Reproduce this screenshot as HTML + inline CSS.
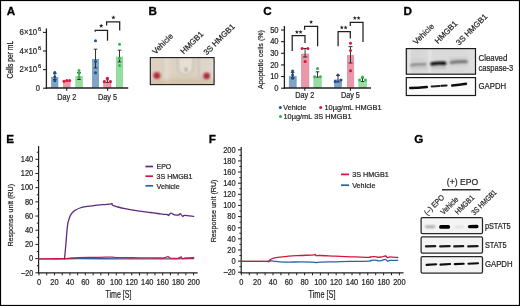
<!DOCTYPE html>
<html><head><meta charset="utf-8"><style>
html,body{margin:0;padding:0;background:#fff;}
body{width:520px;height:306px;overflow:hidden;}
svg{display:block;font-family:"Liberation Sans", sans-serif;will-change:transform;}
</style></head><body>
<svg width="520" height="306" viewBox="0 0 520 306">
<rect x="0" y="0" width="520" height="306" fill="#fff"/>
<text x="6.70" y="14.50" font-size="11.7" text-anchor="start" font-weight="bold" fill="#000" stroke="#000" stroke-width="0.3">A</text>
<line x1="46.40" y1="28.40" x2="46.40" y2="88.90" stroke="#231f20" stroke-width="1.3"/>
<line x1="43.00" y1="88.20" x2="46.40" y2="88.20" stroke="#231f20" stroke-width="1.1"/>
<line x1="43.00" y1="69.60" x2="46.40" y2="69.60" stroke="#231f20" stroke-width="1.1"/>
<line x1="43.00" y1="51.00" x2="46.40" y2="51.00" stroke="#231f20" stroke-width="1.1"/>
<line x1="43.00" y1="32.40" x2="46.40" y2="32.40" stroke="#231f20" stroke-width="1.1"/>
<text x="19.6" y="72.20" font-size="8.4" fill="#231f20" stroke="#231f20" stroke-width="0.22" textLength="17.6" lengthAdjust="spacingAndGlyphs">2×10</text>
<text x="37.9" y="68.10" font-size="5.7" fill="#231f20" stroke="#231f20" stroke-width="0.22">6</text>
<text x="19.6" y="53.60" font-size="8.4" fill="#231f20" stroke="#231f20" stroke-width="0.22" textLength="17.6" lengthAdjust="spacingAndGlyphs">4×10</text>
<text x="37.9" y="49.50" font-size="5.7" fill="#231f20" stroke="#231f20" stroke-width="0.22">6</text>
<text x="19.6" y="35.00" font-size="8.4" fill="#231f20" stroke="#231f20" stroke-width="0.22" textLength="17.6" lengthAdjust="spacingAndGlyphs">6×10</text>
<text x="37.9" y="30.90" font-size="5.7" fill="#231f20" stroke="#231f20" stroke-width="0.22">6</text>
<text x="40.00" y="91.00" font-size="8.36" text-anchor="end" font-weight="normal" fill="#231f20" textLength="4.23" lengthAdjust="spacingAndGlyphs" stroke="#231f20" stroke-width="0.22">0</text>
<text transform="translate(12.80,59.70) rotate(-90)" x="0" y="0" font-size="8.14" text-anchor="middle" font-weight="normal" fill="#231f20" textLength="37.8" lengthAdjust="spacingAndGlyphs" stroke="#231f20" stroke-width="0.22">Cells per mL</text>
<rect x="51.50" y="77.30" width="6.50" height="10.30" fill="#7fa3c9" stroke="#6d93bf" stroke-width="0.6"/>
<rect x="63.30" y="81.30" width="6.80" height="6.30" fill="#ea97aa" stroke="#df8399" stroke-width="0.6"/>
<rect x="75.80" y="76.30" width="6.50" height="11.30" fill="#97dca0" stroke="#80d08e" stroke-width="0.6"/>
<rect x="92.30" y="59.30" width="6.40" height="28.30" fill="#7fa3c9" stroke="#6d93bf" stroke-width="0.6"/>
<rect x="103.70" y="82.70" width="7.30" height="4.90" fill="#ea97aa" stroke="#df8399" stroke-width="0.6"/>
<rect x="116.30" y="57.00" width="6.40" height="30.60" fill="#97dca0" stroke="#80d08e" stroke-width="0.6"/>
<line x1="45.80" y1="88.00" x2="128.20" y2="88.00" stroke="#231f20" stroke-width="1.5"/>
<line x1="66.70" y1="88.00" x2="66.70" y2="90.80" stroke="#231f20" stroke-width="1.1"/>
<line x1="107.60" y1="88.00" x2="107.60" y2="90.80" stroke="#231f20" stroke-width="1.1"/>
<text x="66.80" y="100.20" font-size="8.8" text-anchor="middle" font-weight="normal" fill="#231f20" textLength="19.2" lengthAdjust="spacingAndGlyphs" stroke="#231f20" stroke-width="0.22">Day 2</text>
<text x="107.50" y="100.20" font-size="8.8" text-anchor="middle" font-weight="normal" fill="#231f20" textLength="19.2" lengthAdjust="spacingAndGlyphs" stroke="#231f20" stroke-width="0.22">Day 5</text>
<line x1="54.80" y1="73.70" x2="54.80" y2="79.60" stroke="#231f20" stroke-width="0.9"/>
<line x1="53.00" y1="73.70" x2="56.60" y2="73.70" stroke="#231f20" stroke-width="0.9"/>
<line x1="53.00" y1="79.60" x2="56.60" y2="79.60" stroke="#231f20" stroke-width="0.9"/>
<circle cx="54.80" cy="72.40" r="1.5" fill="#1b4f8f"/>
<circle cx="54.80" cy="76.80" r="1.5" fill="#1b4f8f"/>
<circle cx="54.80" cy="80.80" r="1.5" fill="#1b4f8f"/>
<circle cx="64.00" cy="81.30" r="1.5" fill="#d9153b"/>
<circle cx="66.80" cy="80.60" r="1.5" fill="#d9153b"/>
<circle cx="69.60" cy="80.40" r="1.5" fill="#d9153b"/>
<line x1="79.00" y1="72.50" x2="79.00" y2="79.50" stroke="#231f20" stroke-width="0.9"/>
<line x1="77.20" y1="72.50" x2="80.80" y2="72.50" stroke="#231f20" stroke-width="0.9"/>
<line x1="77.20" y1="79.50" x2="80.80" y2="79.50" stroke="#231f20" stroke-width="0.9"/>
<circle cx="79.00" cy="70.50" r="1.5" fill="#2fb64b"/>
<circle cx="79.00" cy="73.20" r="1.5" fill="#2fb64b"/>
<circle cx="79.00" cy="77.20" r="1.5" fill="#2fb64b"/>
<line x1="95.50" y1="49.20" x2="95.50" y2="67.90" stroke="#231f20" stroke-width="0.9"/>
<line x1="93.70" y1="49.20" x2="97.30" y2="49.20" stroke="#231f20" stroke-width="0.9"/>
<line x1="93.70" y1="67.90" x2="97.30" y2="67.90" stroke="#231f20" stroke-width="0.9"/>
<circle cx="95.50" cy="40.70" r="1.5" fill="#1b4f8f"/>
<circle cx="95.50" cy="61.40" r="1.5" fill="#1b4f8f"/>
<circle cx="95.50" cy="72.80" r="1.5" fill="#1b4f8f"/>
<line x1="107.40" y1="79.80" x2="107.40" y2="82.40" stroke="#231f20" stroke-width="0.9"/>
<line x1="106.00" y1="79.80" x2="108.80" y2="79.80" stroke="#231f20" stroke-width="0.9"/>
<line x1="106.00" y1="82.40" x2="108.80" y2="82.40" stroke="#231f20" stroke-width="0.9"/>
<circle cx="107.40" cy="78.30" r="1.6" fill="#d9153b"/>
<circle cx="104.40" cy="81.60" r="1.6" fill="#d9153b"/>
<circle cx="110.40" cy="81.60" r="1.6" fill="#d9153b"/>
<line x1="119.50" y1="50.20" x2="119.50" y2="61.90" stroke="#231f20" stroke-width="0.9"/>
<line x1="117.70" y1="50.20" x2="121.30" y2="50.20" stroke="#231f20" stroke-width="0.9"/>
<line x1="117.70" y1="61.90" x2="121.30" y2="61.90" stroke="#231f20" stroke-width="0.9"/>
<circle cx="119.50" cy="44.30" r="1.5" fill="#2fb64b"/>
<circle cx="119.50" cy="58.40" r="1.5" fill="#2fb64b"/>
<circle cx="119.50" cy="65.50" r="1.5" fill="#2fb64b"/>
<polyline points="95.20,31.80 95.20,30.40 107.50,30.40 107.50,40.80" fill="none" stroke="#231f20" stroke-width="1.25"/>
<polyline points="106.60,25.50 106.60,21.80 119.70,21.80 119.70,30.40" fill="none" stroke="#231f20" stroke-width="1.25"/>
<polygon points="101.20,23.50 101.77,25.02 103.39,25.09 102.12,26.10 102.55,27.66 101.20,26.77 99.85,27.66 100.28,26.10 99.01,25.09 100.63,25.02" fill="#231f20"/>
<polygon points="113.40,15.20 113.97,16.72 115.59,16.79 114.32,17.80 114.75,19.36 113.40,18.47 112.05,19.36 112.48,17.80 111.21,16.79 112.83,16.72" fill="#231f20"/>
<text x="148.60" y="15.00" font-size="11.7" text-anchor="start" font-weight="bold" fill="#000" stroke="#000" stroke-width="0.3">B</text>
<text transform="translate(155.50,54.80) rotate(-45)" x="0" y="0" font-size="8.0" text-anchor="start" font-weight="normal" fill="#231f20" textLength="25.8" lengthAdjust="spacingAndGlyphs" stroke="#231f20" stroke-width="0.22">Vehicle</text>
<text transform="translate(183.80,54.60) rotate(-45)" x="0" y="0" font-size="8.0" text-anchor="start" font-weight="normal" fill="#231f20" textLength="28.45" lengthAdjust="spacingAndGlyphs" stroke="#231f20" stroke-width="0.22">HMGB1</text>
<text transform="translate(206.80,55.60) rotate(-45)" x="0" y="0" font-size="8.0" text-anchor="start" font-weight="normal" fill="#231f20" textLength="40.46" lengthAdjust="spacingAndGlyphs" stroke="#231f20" stroke-width="0.22">3S HMGB1</text>
<defs>
<linearGradient id="phbg" x1="0" y1="0" x2="0" y2="1">
<stop offset="0" stop-color="#dcd3c6"/><stop offset="0.6" stop-color="#ddd2c1"/><stop offset="1" stop-color="#d3c3a9"/></linearGradient>
<filter id="blur1" filterUnits="userSpaceOnUse" x="0" y="0" width="520" height="306"><feGaussianBlur stdDeviation="1.2"/></filter>
<filter id="blur05" filterUnits="userSpaceOnUse" x="0" y="0" width="520" height="306"><feGaussianBlur stdDeviation="0.6"/></filter>
<filter id="blur08" filterUnits="userSpaceOnUse" x="0" y="0" width="520" height="306"><feGaussianBlur stdDeviation="0.9"/></filter>
<filter id="blur03" filterUnits="userSpaceOnUse" x="0" y="0" width="520" height="306"><feGaussianBlur stdDeviation="0.45"/></filter>
</defs>
<rect x="150.30" y="57.60" width="63.80" height="27.00" fill="url(#phbg)"/>
<clipPath id="phclip"><rect x="150.3" y="57.6" width="63.8" height="27.0"/></clipPath>
<g clip-path="url(#phclip)"><g filter="url(#blur1)">
<path d="M151,57 L162,57 L162,72 Q161,80 155,82 L151,82 Z" fill="#e0d2c2" opacity="0.9"/>
<rect x="163.5" y="57" width="6" height="28" fill="#e4dbd0" opacity="0.8"/>
<path d="M177.5,57 L193.8,57 L193.8,67 Q193,75.5 185.6,75.5 Q178.2,75.5 177.5,67 Z" fill="#e6dfd6"/>
<path d="M199,57 L214,57 L214,84 L206,84 Q200,81 199,72 Z" fill="#e0d7cb" opacity="0.9"/>
<rect x="150" y="79.5" width="65" height="6" fill="#d2c2a8" opacity="0.7"/>
</g>
<g filter="url(#blur08)" fill="none">
<path d="M177.8,57 L177.8,66.5 Q178.5,75 185.6,75 Q192.7,75 193.4,66.5 L193.4,57" stroke="#c3baaf" stroke-width="1.5"/>
<path d="M198.8,57 L198.8,71 Q199.5,79.5 205.5,81.5" stroke="#c6bdb1" stroke-width="1.4"/>
<path d="M163,57 L163,70 Q162.5,79 157.5,81.5" stroke="#d3c6b6" stroke-width="1.0"/>
<path d="M212.6,62 L212.6,78" stroke="#eeeaf2" stroke-width="0.9"/>
</g>
<g filter="url(#blur08)">
<ellipse cx="156.9" cy="75.6" rx="3.6" ry="3.5" fill="#b63a48"/>
<ellipse cx="206.6" cy="75.9" rx="3.5" ry="3.4" fill="#b63846"/>
<ellipse cx="156.7" cy="76.2" rx="2.2" ry="2.0" fill="#a82c3c"/>
<ellipse cx="206.8" cy="76.5" rx="2.2" ry="2.0" fill="#a62a3a"/>
<ellipse cx="186.0" cy="69.6" rx="1.4" ry="2.0" fill="#b39a84"/>
</g></g>
<rect x="150.3" y="57.6" width="63.8" height="27.0" fill="none" stroke="#1a1a1a" stroke-width="1.1"/>
<text x="263.30" y="14.80" font-size="11.7" text-anchor="start" font-weight="bold" fill="#000" stroke="#000" stroke-width="0.3">C</text>
<line x1="284.40" y1="26.00" x2="284.40" y2="88.90" stroke="#231f20" stroke-width="1.3"/>
<line x1="281.00" y1="88.20" x2="284.40" y2="88.20" stroke="#231f20" stroke-width="1.1"/>
<text x="278.60" y="90.80" font-size="8.36" text-anchor="end" font-weight="normal" fill="#231f20" textLength="4.23" lengthAdjust="spacingAndGlyphs" stroke="#231f20" stroke-width="0.22">0</text>
<line x1="281.00" y1="76.56" x2="284.40" y2="76.56" stroke="#231f20" stroke-width="1.1"/>
<text x="278.60" y="79.16" font-size="8.36" text-anchor="end" font-weight="normal" fill="#231f20" textLength="8.45" lengthAdjust="spacingAndGlyphs" stroke="#231f20" stroke-width="0.22">10</text>
<line x1="281.00" y1="64.92" x2="284.40" y2="64.92" stroke="#231f20" stroke-width="1.1"/>
<text x="278.60" y="67.52" font-size="8.36" text-anchor="end" font-weight="normal" fill="#231f20" textLength="8.45" lengthAdjust="spacingAndGlyphs" stroke="#231f20" stroke-width="0.22">20</text>
<line x1="281.00" y1="53.28" x2="284.40" y2="53.28" stroke="#231f20" stroke-width="1.1"/>
<text x="278.60" y="55.88" font-size="8.36" text-anchor="end" font-weight="normal" fill="#231f20" textLength="8.45" lengthAdjust="spacingAndGlyphs" stroke="#231f20" stroke-width="0.22">30</text>
<line x1="281.00" y1="41.64" x2="284.40" y2="41.64" stroke="#231f20" stroke-width="1.1"/>
<text x="278.60" y="44.24" font-size="8.36" text-anchor="end" font-weight="normal" fill="#231f20" textLength="8.45" lengthAdjust="spacingAndGlyphs" stroke="#231f20" stroke-width="0.22">40</text>
<line x1="281.00" y1="30.00" x2="284.40" y2="30.00" stroke="#231f20" stroke-width="1.1"/>
<text x="278.60" y="32.60" font-size="8.36" text-anchor="end" font-weight="normal" fill="#231f20" textLength="8.45" lengthAdjust="spacingAndGlyphs" stroke="#231f20" stroke-width="0.22">50</text>
<text transform="translate(263.00,59.50) rotate(-90)" x="0" y="0" font-size="8.03" text-anchor="middle" font-weight="normal" fill="#231f20" textLength="59" lengthAdjust="spacingAndGlyphs" stroke="#231f20" stroke-width="0.22">Apoptotic cells (%)</text>
<rect x="289.20" y="76.50" width="7.00" height="11.10" fill="#7fa3c9" stroke="#6d93bf" stroke-width="0.6"/>
<rect x="301.40" y="54.00" width="7.50" height="33.60" fill="#ea97aa" stroke="#df8399" stroke-width="0.6"/>
<rect x="313.90" y="78.30" width="7.30" height="9.30" fill="#97dca0" stroke="#80d08e" stroke-width="0.6"/>
<rect x="334.30" y="79.90" width="7.20" height="7.70" fill="#7fa3c9" stroke="#6d93bf" stroke-width="0.6"/>
<rect x="347.30" y="55.40" width="6.50" height="32.20" fill="#ea97aa" stroke="#df8399" stroke-width="0.6"/>
<rect x="358.80" y="81.60" width="7.60" height="6.00" fill="#97dca0" stroke="#80d08e" stroke-width="0.6"/>
<line x1="283.80" y1="88.00" x2="371.00" y2="88.00" stroke="#231f20" stroke-width="1.5"/>
<line x1="304.80" y1="88.00" x2="304.80" y2="90.80" stroke="#231f20" stroke-width="1.1"/>
<line x1="350.40" y1="88.00" x2="350.40" y2="90.80" stroke="#231f20" stroke-width="1.1"/>
<text x="304.70" y="97.80" font-size="8.36" text-anchor="middle" font-weight="normal" fill="#231f20" textLength="19.0" lengthAdjust="spacingAndGlyphs" stroke="#231f20" stroke-width="0.22">Day 2</text>
<text x="350.40" y="97.80" font-size="8.36" text-anchor="middle" font-weight="normal" fill="#231f20" textLength="19.0" lengthAdjust="spacingAndGlyphs" stroke="#231f20" stroke-width="0.22">Day 5</text>
<line x1="292.60" y1="72.60" x2="292.60" y2="77.70" stroke="#231f20" stroke-width="0.9"/>
<line x1="290.80" y1="72.60" x2="294.40" y2="72.60" stroke="#231f20" stroke-width="0.9"/>
<line x1="290.80" y1="77.70" x2="294.40" y2="77.70" stroke="#231f20" stroke-width="0.9"/>
<circle cx="292.60" cy="70.90" r="1.5" fill="#1b4f8f"/>
<circle cx="292.60" cy="75.00" r="1.5" fill="#1b4f8f"/>
<circle cx="292.60" cy="78.20" r="1.5" fill="#1b4f8f"/>
<line x1="305.10" y1="48.50" x2="305.10" y2="57.00" stroke="#231f20" stroke-width="0.9"/>
<line x1="302.90" y1="48.50" x2="307.30" y2="48.50" stroke="#231f20" stroke-width="0.9"/>
<line x1="302.90" y1="57.00" x2="307.30" y2="57.00" stroke="#231f20" stroke-width="0.9"/>
<circle cx="302.20" cy="48.50" r="1.5" fill="#d9153b"/>
<circle cx="307.90" cy="48.50" r="1.5" fill="#d9153b"/>
<circle cx="305.10" cy="61.50" r="1.5" fill="#d9153b"/>
<line x1="317.50" y1="71.80" x2="317.50" y2="77.20" stroke="#231f20" stroke-width="0.9"/>
<line x1="315.70" y1="71.80" x2="319.30" y2="71.80" stroke="#231f20" stroke-width="0.9"/>
<line x1="315.70" y1="77.20" x2="319.30" y2="77.20" stroke="#231f20" stroke-width="0.9"/>
<circle cx="317.50" cy="68.40" r="1.5" fill="#2fb64b"/>
<circle cx="314.60" cy="76.80" r="1.5" fill="#2fb64b"/>
<circle cx="320.40" cy="76.80" r="1.5" fill="#2fb64b"/>
<line x1="338.00" y1="75.50" x2="338.00" y2="82.00" stroke="#231f20" stroke-width="0.9"/>
<line x1="336.20" y1="75.50" x2="339.80" y2="75.50" stroke="#231f20" stroke-width="0.9"/>
<line x1="336.20" y1="82.00" x2="339.80" y2="82.00" stroke="#231f20" stroke-width="0.9"/>
<circle cx="338.00" cy="74.90" r="1.5" fill="#1b4f8f"/>
<circle cx="335.20" cy="81.50" r="1.5" fill="#1b4f8f"/>
<circle cx="341.00" cy="80.10" r="1.5" fill="#1b4f8f"/>
<line x1="350.50" y1="46.60" x2="350.50" y2="63.00" stroke="#231f20" stroke-width="0.9"/>
<line x1="348.50" y1="46.60" x2="352.50" y2="46.60" stroke="#231f20" stroke-width="0.9"/>
<line x1="348.50" y1="63.00" x2="352.50" y2="63.00" stroke="#231f20" stroke-width="0.9"/>
<circle cx="350.50" cy="43.20" r="1.5" fill="#d9153b"/>
<circle cx="350.50" cy="50.40" r="1.5" fill="#d9153b"/>
<circle cx="350.50" cy="70.70" r="1.5" fill="#d9153b"/>
<line x1="362.50" y1="78.00" x2="362.50" y2="81.50" stroke="#231f20" stroke-width="0.9"/>
<line x1="360.90" y1="78.00" x2="364.10" y2="78.00" stroke="#231f20" stroke-width="0.9"/>
<line x1="360.90" y1="81.50" x2="364.10" y2="81.50" stroke="#231f20" stroke-width="0.9"/>
<circle cx="362.50" cy="76.90" r="1.5" fill="#2fb64b"/>
<circle cx="359.60" cy="80.10" r="1.5" fill="#2fb64b"/>
<circle cx="365.50" cy="80.10" r="1.5" fill="#2fb64b"/>
<polyline points="292.20,51.10 292.20,35.70 305.00,35.70 305.00,43.00" fill="none" stroke="#231f20" stroke-width="1.25"/>
<polyline points="304.60,29.80 304.60,26.30 317.60,26.30 317.60,46.30" fill="none" stroke="#231f20" stroke-width="1.25"/>
<polygon points="296.90,29.90 297.42,31.29 298.90,31.35 297.74,32.27 298.13,33.70 296.90,32.88 295.67,33.70 296.06,32.27 294.90,31.35 296.38,31.29" fill="#231f20"/>
<polygon points="300.60,29.90 301.12,31.29 302.60,31.35 301.44,32.27 301.83,33.70 300.60,32.88 299.37,33.70 299.76,32.27 298.60,31.35 300.08,31.29" fill="#231f20"/>
<polygon points="311.10,19.90 311.62,21.29 313.10,21.35 311.94,22.27 312.33,23.70 311.10,22.88 309.87,23.70 310.26,22.27 309.10,21.35 310.58,21.29" fill="#231f20"/>
<polyline points="338.10,46.30 338.10,31.50 350.30,31.50 350.30,38.50" fill="none" stroke="#231f20" stroke-width="1.25"/>
<polyline points="350.30,25.90 350.30,22.30 363.00,22.30 363.00,42.10" fill="none" stroke="#231f20" stroke-width="1.25"/>
<polygon points="341.80,25.40 342.32,26.79 343.80,26.85 342.64,27.77 343.03,29.20 341.80,28.38 340.57,29.20 340.96,27.77 339.80,26.85 341.28,26.79" fill="#231f20"/>
<polygon points="345.60,25.40 346.12,26.79 347.60,26.85 346.44,27.77 346.83,29.20 345.60,28.38 344.37,29.20 344.76,27.77 343.60,26.85 345.08,26.79" fill="#231f20"/>
<polygon points="354.80,15.90 355.32,17.29 356.80,17.35 355.64,18.27 356.03,19.70 354.80,18.88 353.57,19.70 353.96,18.27 352.80,17.35 354.28,17.29" fill="#231f20"/>
<polygon points="358.60,15.90 359.12,17.29 360.60,17.35 359.44,18.27 359.83,19.70 358.60,18.88 357.37,19.70 357.76,18.27 356.60,17.35 358.08,17.29" fill="#231f20"/>
<circle cx="280.30" cy="107.40" r="1.5" fill="#1b4f8f"/>
<text x="283.30" y="109.90" font-size="7.92" text-anchor="start" font-weight="normal" fill="#231f20" textLength="23.1" lengthAdjust="spacingAndGlyphs" stroke="#231f20" stroke-width="0.22">Vehicle</text>
<circle cx="320.70" cy="107.40" r="1.5" fill="#d9153b"/>
<text x="324.50" y="109.90" font-size="8.03" text-anchor="start" font-weight="normal" fill="#231f20" textLength="57.0" lengthAdjust="spacingAndGlyphs" stroke="#231f20" stroke-width="0.22">10µg/mL HMGB1</text>
<circle cx="280.50" cy="116.40" r="1.5" fill="#2fb64b"/>
<text x="283.50" y="119.00" font-size="8.03" text-anchor="start" font-weight="normal" fill="#231f20" textLength="68.0" lengthAdjust="spacingAndGlyphs" stroke="#231f20" stroke-width="0.22">10µg/mL 3S HMGB1</text>
<text x="403.50" y="14.80" font-size="11.7" text-anchor="start" font-weight="bold" fill="#000" stroke="#000" stroke-width="0.3">D</text>
<text transform="translate(416.30,45.00) rotate(-45)" x="0" y="0" font-size="8.0" text-anchor="start" font-weight="normal" fill="#231f20" textLength="25.8" lengthAdjust="spacingAndGlyphs" stroke="#231f20" stroke-width="0.22">Vehicle</text>
<text transform="translate(437.90,44.20) rotate(-45)" x="0" y="0" font-size="8.0" text-anchor="start" font-weight="normal" fill="#231f20" textLength="28.45" lengthAdjust="spacingAndGlyphs" stroke="#231f20" stroke-width="0.22">HMGB1</text>
<text transform="translate(459.30,45.70) rotate(-45)" x="0" y="0" font-size="8.0" text-anchor="start" font-weight="normal" fill="#231f20" textLength="40.46" lengthAdjust="spacingAndGlyphs" stroke="#231f20" stroke-width="0.22">3S HMGB1</text>
<defs><linearGradient id="dbg" x1="0" y1="0" x2="1" y2="0">
<stop offset="0" stop-color="#cdcdcd"/><stop offset="0.04" stop-color="#e8e8e8"/><stop offset="0.08" stop-color="#d6d6d6"/><stop offset="0.3" stop-color="#d9d9d9"/><stop offset="0.34" stop-color="#e4e4e4"/><stop offset="0.38" stop-color="#dadada"/><stop offset="0.85" stop-color="#dadada"/><stop offset="1" stop-color="#e0e0e0"/></linearGradient>
<filter id="bandblur" filterUnits="userSpaceOnUse" x="0" y="0" width="520" height="306"><feGaussianBlur stdDeviation="0.55"/></filter>
<filter id="bandblur2" filterUnits="userSpaceOnUse" x="0" y="0" width="520" height="306"><feGaussianBlur stdDeviation="0.8"/></filter>
<filter id="hazeblur" filterUnits="userSpaceOnUse" x="0" y="0" width="520" height="306"><feGaussianBlur stdDeviation="1.2"/></filter>
</defs>
<rect x="406.30" y="48.60" width="69.20" height="25.60" fill="url(#dbg)"/>
<g filter="url(#hazeblur)">
<rect x="410" y="66" width="17" height="3" fill="#c8c8c8"/>
<rect x="431" y="65.2" width="15" height="3.5" fill="#c2c2c2"/>
<rect x="450" y="57.5" width="17" height="2.5" fill="#cacaca"/>
<rect x="450" y="63.5" width="17" height="2.5" fill="#cdcdcd"/>
</g>
<g filter="url(#bandblur2)" fill="none" stroke-linecap="round">
<path d="M411.3,60.2 Q418,59.6 425.3,59.9" stroke="#cbcbcb" stroke-width="1.6"/>
<path d="M411.4,65.0 Q418,63.9 425.3,64.3" stroke="#858585" stroke-width="2.6"/>
<path d="M431.8,63.8 Q438,62.7 444.7,63.3" stroke="#000" stroke-width="3.4"/>
<path d="M450.8,62.5 Q458,61.3 466.6,61.7" stroke="#666" stroke-width="2.6"/>
</g>
<rect x="406.3" y="48.6" width="69.2" height="25.6" fill="none" stroke="#1a1a1a" stroke-width="1.2"/>
<rect x="406.30" y="77.60" width="69.20" height="17.90" fill="#fbfbfb"/>
<g filter="url(#blur03)" fill="none" stroke-linecap="round">
<path d="M410.2,88.0 Q418,87.8 426.8,87.0" stroke="#111" stroke-width="2.5"/>
<path d="M431.6,86.5 Q436,86.0 439.6,85.9" stroke="#222" stroke-width="2.0"/>
<path d="M441.4,85.8 Q444,85.6 446.6,85.4" stroke="#161616" stroke-width="2.0"/>
<path d="M452.2,85.4 Q459,85.0 466.0,83.7" stroke="#111" stroke-width="2.5"/>
</g>
<rect x="406.3" y="77.6" width="69.2" height="17.9" fill="none" stroke="#1a1a1a" stroke-width="1.2"/>
<text x="478.50" y="61.30" font-size="8.58" text-anchor="start" font-weight="normal" fill="#231f20" textLength="28.8" lengthAdjust="spacingAndGlyphs" stroke="#231f20" stroke-width="0.22">Cleaved</text>
<text x="478.50" y="71.10" font-size="8.36" text-anchor="start" font-weight="normal" fill="#231f20" textLength="34.8" lengthAdjust="spacingAndGlyphs" stroke="#231f20" stroke-width="0.22">caspase-3</text>
<text x="478.50" y="89.10" font-size="8.58" text-anchor="start" font-weight="normal" fill="#231f20" textLength="27.7" lengthAdjust="spacingAndGlyphs" stroke="#231f20" stroke-width="0.22">GAPDH</text>
<text x="6.30" y="142.60" font-size="11.7" text-anchor="start" font-weight="bold" fill="#000" stroke="#000" stroke-width="0.3">E</text>
<line x1="38.60" y1="145.90" x2="38.60" y2="273.50" stroke="#231f20" stroke-width="1.2"/>
<line x1="35.40" y1="272.79" x2="38.60" y2="272.79" stroke="#231f20" stroke-width="1.0"/>
<text x="33.20" y="275.59" font-size="8.69" text-anchor="end" font-weight="normal" fill="#231f20" textLength="11.9" lengthAdjust="spacingAndGlyphs" stroke="#231f20" stroke-width="0.22">–20</text>
<line x1="36.80" y1="265.69" x2="38.60" y2="265.69" stroke="#231f20" stroke-width="1.0"/>
<line x1="35.40" y1="258.60" x2="38.60" y2="258.60" stroke="#231f20" stroke-width="1.0"/>
<text x="33.20" y="261.40" font-size="8.69" text-anchor="end" font-weight="normal" fill="#231f20" textLength="4.15" lengthAdjust="spacingAndGlyphs" stroke="#231f20" stroke-width="0.22">0</text>
<line x1="36.80" y1="251.51" x2="38.60" y2="251.51" stroke="#231f20" stroke-width="1.0"/>
<line x1="35.40" y1="244.41" x2="38.60" y2="244.41" stroke="#231f20" stroke-width="1.0"/>
<text x="33.20" y="247.21" font-size="8.69" text-anchor="end" font-weight="normal" fill="#231f20" textLength="8.3" lengthAdjust="spacingAndGlyphs" stroke="#231f20" stroke-width="0.22">20</text>
<line x1="36.80" y1="237.32" x2="38.60" y2="237.32" stroke="#231f20" stroke-width="1.0"/>
<line x1="35.40" y1="230.23" x2="38.60" y2="230.23" stroke="#231f20" stroke-width="1.0"/>
<text x="33.20" y="233.03" font-size="8.69" text-anchor="end" font-weight="normal" fill="#231f20" textLength="8.3" lengthAdjust="spacingAndGlyphs" stroke="#231f20" stroke-width="0.22">40</text>
<line x1="36.80" y1="223.14" x2="38.60" y2="223.14" stroke="#231f20" stroke-width="1.0"/>
<line x1="35.40" y1="216.04" x2="38.60" y2="216.04" stroke="#231f20" stroke-width="1.0"/>
<text x="33.20" y="218.84" font-size="8.69" text-anchor="end" font-weight="normal" fill="#231f20" textLength="8.3" lengthAdjust="spacingAndGlyphs" stroke="#231f20" stroke-width="0.22">60</text>
<line x1="36.80" y1="208.95" x2="38.60" y2="208.95" stroke="#231f20" stroke-width="1.0"/>
<line x1="35.40" y1="201.86" x2="38.60" y2="201.86" stroke="#231f20" stroke-width="1.0"/>
<text x="33.20" y="204.66" font-size="8.69" text-anchor="end" font-weight="normal" fill="#231f20" textLength="8.3" lengthAdjust="spacingAndGlyphs" stroke="#231f20" stroke-width="0.22">80</text>
<line x1="36.80" y1="194.76" x2="38.60" y2="194.76" stroke="#231f20" stroke-width="1.0"/>
<line x1="35.40" y1="187.67" x2="38.60" y2="187.67" stroke="#231f20" stroke-width="1.0"/>
<text x="33.20" y="190.47" font-size="8.69" text-anchor="end" font-weight="normal" fill="#231f20" textLength="12.450000000000001" lengthAdjust="spacingAndGlyphs" stroke="#231f20" stroke-width="0.22">100</text>
<line x1="36.80" y1="180.58" x2="38.60" y2="180.58" stroke="#231f20" stroke-width="1.0"/>
<line x1="35.40" y1="173.48" x2="38.60" y2="173.48" stroke="#231f20" stroke-width="1.0"/>
<text x="33.20" y="176.28" font-size="8.69" text-anchor="end" font-weight="normal" fill="#231f20" textLength="12.450000000000001" lengthAdjust="spacingAndGlyphs" stroke="#231f20" stroke-width="0.22">120</text>
<line x1="36.80" y1="166.39" x2="38.60" y2="166.39" stroke="#231f20" stroke-width="1.0"/>
<line x1="35.40" y1="159.30" x2="38.60" y2="159.30" stroke="#231f20" stroke-width="1.0"/>
<text x="33.20" y="162.10" font-size="8.69" text-anchor="end" font-weight="normal" fill="#231f20" textLength="12.450000000000001" lengthAdjust="spacingAndGlyphs" stroke="#231f20" stroke-width="0.22">140</text>
<line x1="36.80" y1="152.21" x2="38.60" y2="152.21" stroke="#231f20" stroke-width="1.0"/>
<line x1="38.00" y1="272.90" x2="197.70" y2="272.90" stroke="#231f20" stroke-width="1.3"/>
<line x1="39.00" y1="272.90" x2="39.00" y2="275.40" stroke="#231f20" stroke-width="1.0"/>
<text x="39.00" y="284.50" font-size="8.69" text-anchor="middle" font-weight="normal" fill="#231f20" textLength="4.15" lengthAdjust="spacingAndGlyphs" stroke="#231f20" stroke-width="0.22">0</text>
<line x1="46.73" y1="272.90" x2="46.73" y2="275.40" stroke="#231f20" stroke-width="1.0"/>
<line x1="54.46" y1="272.90" x2="54.46" y2="275.40" stroke="#231f20" stroke-width="1.0"/>
<text x="54.46" y="284.50" font-size="8.69" text-anchor="middle" font-weight="normal" fill="#231f20" textLength="8.3" lengthAdjust="spacingAndGlyphs" stroke="#231f20" stroke-width="0.22">20</text>
<line x1="62.19" y1="272.90" x2="62.19" y2="275.40" stroke="#231f20" stroke-width="1.0"/>
<line x1="69.92" y1="272.90" x2="69.92" y2="275.40" stroke="#231f20" stroke-width="1.0"/>
<text x="69.92" y="284.50" font-size="8.69" text-anchor="middle" font-weight="normal" fill="#231f20" textLength="8.3" lengthAdjust="spacingAndGlyphs" stroke="#231f20" stroke-width="0.22">40</text>
<line x1="77.65" y1="272.90" x2="77.65" y2="275.40" stroke="#231f20" stroke-width="1.0"/>
<line x1="85.38" y1="272.90" x2="85.38" y2="275.40" stroke="#231f20" stroke-width="1.0"/>
<text x="85.38" y="284.50" font-size="8.69" text-anchor="middle" font-weight="normal" fill="#231f20" textLength="8.3" lengthAdjust="spacingAndGlyphs" stroke="#231f20" stroke-width="0.22">60</text>
<line x1="93.11" y1="272.90" x2="93.11" y2="275.40" stroke="#231f20" stroke-width="1.0"/>
<line x1="100.84" y1="272.90" x2="100.84" y2="275.40" stroke="#231f20" stroke-width="1.0"/>
<text x="100.84" y="284.50" font-size="8.69" text-anchor="middle" font-weight="normal" fill="#231f20" textLength="8.3" lengthAdjust="spacingAndGlyphs" stroke="#231f20" stroke-width="0.22">80</text>
<line x1="108.57" y1="272.90" x2="108.57" y2="275.40" stroke="#231f20" stroke-width="1.0"/>
<line x1="116.30" y1="272.90" x2="116.30" y2="275.40" stroke="#231f20" stroke-width="1.0"/>
<text x="116.30" y="284.50" font-size="8.69" text-anchor="middle" font-weight="normal" fill="#231f20" textLength="12.450000000000001" lengthAdjust="spacingAndGlyphs" stroke="#231f20" stroke-width="0.22">100</text>
<line x1="124.03" y1="272.90" x2="124.03" y2="275.40" stroke="#231f20" stroke-width="1.0"/>
<line x1="131.76" y1="272.90" x2="131.76" y2="275.40" stroke="#231f20" stroke-width="1.0"/>
<text x="131.76" y="284.50" font-size="8.69" text-anchor="middle" font-weight="normal" fill="#231f20" textLength="12.450000000000001" lengthAdjust="spacingAndGlyphs" stroke="#231f20" stroke-width="0.22">120</text>
<line x1="139.49" y1="272.90" x2="139.49" y2="275.40" stroke="#231f20" stroke-width="1.0"/>
<line x1="147.22" y1="272.90" x2="147.22" y2="275.40" stroke="#231f20" stroke-width="1.0"/>
<text x="147.22" y="284.50" font-size="8.69" text-anchor="middle" font-weight="normal" fill="#231f20" textLength="12.450000000000001" lengthAdjust="spacingAndGlyphs" stroke="#231f20" stroke-width="0.22">140</text>
<line x1="154.95" y1="272.90" x2="154.95" y2="275.40" stroke="#231f20" stroke-width="1.0"/>
<line x1="162.68" y1="272.90" x2="162.68" y2="275.40" stroke="#231f20" stroke-width="1.0"/>
<text x="162.68" y="284.50" font-size="8.69" text-anchor="middle" font-weight="normal" fill="#231f20" textLength="12.450000000000001" lengthAdjust="spacingAndGlyphs" stroke="#231f20" stroke-width="0.22">160</text>
<line x1="170.41" y1="272.90" x2="170.41" y2="275.40" stroke="#231f20" stroke-width="1.0"/>
<line x1="178.14" y1="272.90" x2="178.14" y2="275.40" stroke="#231f20" stroke-width="1.0"/>
<text x="178.14" y="284.50" font-size="8.69" text-anchor="middle" font-weight="normal" fill="#231f20" textLength="12.450000000000001" lengthAdjust="spacingAndGlyphs" stroke="#231f20" stroke-width="0.22">180</text>
<line x1="185.87" y1="272.90" x2="185.87" y2="275.40" stroke="#231f20" stroke-width="1.0"/>
<line x1="193.60" y1="272.90" x2="193.60" y2="275.40" stroke="#231f20" stroke-width="1.0"/>
<text x="193.60" y="284.50" font-size="8.69" text-anchor="middle" font-weight="normal" fill="#231f20" textLength="12.450000000000001" lengthAdjust="spacingAndGlyphs" stroke="#231f20" stroke-width="0.22">200</text>
<text x="118.45" y="297.70" font-size="10.23" text-anchor="middle" font-weight="normal" fill="#231f20" textLength="26.1" lengthAdjust="spacingAndGlyphs" stroke="#231f20" stroke-width="0.22">Time [S]</text>
<text transform="translate(13.30,215.30) rotate(-90)" x="0" y="0" font-size="8.03" text-anchor="middle" font-weight="normal" fill="#231f20" textLength="62.6" lengthAdjust="spacingAndGlyphs" stroke="#231f20" stroke-width="0.22">Response unit (RU)</text>
<line x1="145.40" y1="166.50" x2="153.10" y2="166.50" stroke="#5c2b80" stroke-width="1.7"/>
<line x1="145.40" y1="176.20" x2="153.10" y2="176.20" stroke="#d4163c" stroke-width="1.7"/>
<line x1="145.40" y1="185.80" x2="153.10" y2="185.80" stroke="#2a62a6" stroke-width="1.7"/>
<text x="156.50" y="169.20" font-size="7.7" text-anchor="start" font-weight="normal" fill="#231f20" textLength="14.7" lengthAdjust="spacingAndGlyphs" stroke="#231f20" stroke-width="0.22">EPO</text>
<text x="156.50" y="178.90" font-size="7.81" text-anchor="start" font-weight="normal" fill="#231f20" textLength="36.1" lengthAdjust="spacingAndGlyphs" stroke="#231f20" stroke-width="0.22">3S HMGB1</text>
<text x="156.50" y="188.50" font-size="7.81" text-anchor="start" font-weight="normal" fill="#231f20" textLength="23.2" lengthAdjust="spacingAndGlyphs" stroke="#231f20" stroke-width="0.22">Vehicle</text>
<path d="M38.80,258.90 C43.03,258.88 57.67,258.83 64.20,258.80 C70.73,258.77 68.70,258.70 78.00,258.70 C87.30,258.70 106.33,258.78 120.00,258.80 C133.67,258.82 147.72,258.82 160.00,258.80 C172.28,258.78 188.08,258.72 193.70,258.70" fill="none" stroke="#2a62a6" stroke-width="1.3" stroke-linejoin="round" stroke-linecap="round"/>
<path d="M38.80,258.90 C40.67,258.88 45.77,258.85 50.00,258.80 C54.23,258.75 60.87,258.72 64.20,258.60 C67.53,258.48 67.70,258.27 70.00,258.10 C72.30,257.93 73.08,257.73 78.00,257.60 C82.92,257.47 93.87,257.38 99.50,257.30 C105.13,257.22 108.72,257.05 111.80,257.10 C114.88,257.15 113.30,257.48 118.00,257.60 C122.70,257.72 132.83,257.73 140.00,257.80 C147.17,257.87 157.23,257.93 161.00,258.00 C164.77,258.07 161.68,258.33 162.60,258.20 C163.52,258.07 165.60,257.47 166.50,257.20 C167.40,256.93 167.45,256.50 168.00,256.60 C168.55,256.70 169.22,257.50 169.80,257.80 C170.38,258.10 170.13,258.32 171.50,258.40 C172.87,258.48 176.40,258.55 178.00,258.30 C179.60,258.05 180.33,256.83 181.10,256.90 C181.87,256.97 181.83,258.52 182.60,258.70 C183.37,258.88 183.85,258.17 185.70,258.00 C187.55,257.83 192.37,257.75 193.70,257.70" fill="none" stroke="#d4163c" stroke-width="1.3" stroke-linejoin="round" stroke-linecap="round"/>
<path d="M64.20,258.50 C64.27,258.35 64.32,260.02 64.60,257.60 C64.88,255.18 65.52,248.35 65.90,244.00 C66.28,239.65 66.57,234.98 66.90,231.50 C67.23,228.02 67.48,225.37 67.90,223.10 C68.32,220.83 68.80,219.47 69.40,217.90 C70.00,216.33 70.63,214.92 71.50,213.70 C72.37,212.48 73.20,211.55 74.60,210.60 C76.00,209.65 77.80,208.70 79.90,208.00 C82.00,207.30 84.68,206.83 87.20,206.40 C89.72,205.97 92.35,205.70 95.00,205.40 C97.65,205.10 100.42,204.85 103.10,204.60 C105.78,204.35 109.62,204.10 111.10,203.90 C112.58,203.70 111.75,203.18 112.00,203.40 C112.25,203.62 111.58,204.60 112.60,205.20 C113.62,205.80 116.03,206.42 118.10,207.00 C120.17,207.58 122.50,208.17 125.00,208.70 C127.50,209.23 130.03,209.70 133.10,210.20 C136.17,210.70 140.58,211.32 143.40,211.70 C146.22,212.08 147.62,212.20 150.00,212.50 C152.38,212.80 155.45,213.20 157.70,213.50 C159.95,213.80 162.22,214.15 163.50,214.30 C164.78,214.45 164.72,214.35 165.40,214.40 C166.08,214.45 167.08,214.42 167.60,214.60 C168.12,214.78 167.98,215.73 168.50,215.50 C169.02,215.27 170.02,213.47 170.70,213.20 C171.38,212.93 171.97,213.63 172.60,213.90 C173.23,214.17 173.47,214.62 174.50,214.80 C175.53,214.98 177.83,215.18 178.80,215.00 C179.77,214.82 179.65,213.47 180.30,213.70 C180.95,213.93 181.98,216.12 182.70,216.40 C183.42,216.68 182.76,215.42 184.60,215.40 C186.44,215.38 192.22,216.15 193.75,216.30" fill="none" stroke="#5c2b80" stroke-width="1.3" stroke-linejoin="round" stroke-linecap="round"/>
<text x="208.70" y="142.60" font-size="11.7" text-anchor="start" font-weight="bold" fill="#000" stroke="#000" stroke-width="0.3">F</text>
<line x1="241.20" y1="146.90" x2="241.20" y2="273.40" stroke="#231f20" stroke-width="1.2"/>
<line x1="238.00" y1="272.23" x2="241.20" y2="272.23" stroke="#231f20" stroke-width="1.0"/>
<text x="235.60" y="275.03" font-size="8.69" text-anchor="end" font-weight="normal" fill="#231f20" textLength="11.9" lengthAdjust="spacingAndGlyphs" stroke="#231f20" stroke-width="0.22">–20</text>
<line x1="239.40" y1="266.67" x2="241.20" y2="266.67" stroke="#231f20" stroke-width="1.0"/>
<line x1="238.00" y1="261.10" x2="241.20" y2="261.10" stroke="#231f20" stroke-width="1.0"/>
<text x="235.60" y="263.90" font-size="8.69" text-anchor="end" font-weight="normal" fill="#231f20" textLength="4.15" lengthAdjust="spacingAndGlyphs" stroke="#231f20" stroke-width="0.22">0</text>
<line x1="239.40" y1="255.54" x2="241.20" y2="255.54" stroke="#231f20" stroke-width="1.0"/>
<line x1="238.00" y1="249.97" x2="241.20" y2="249.97" stroke="#231f20" stroke-width="1.0"/>
<text x="235.60" y="252.77" font-size="8.69" text-anchor="end" font-weight="normal" fill="#231f20" textLength="8.3" lengthAdjust="spacingAndGlyphs" stroke="#231f20" stroke-width="0.22">20</text>
<line x1="239.40" y1="244.41" x2="241.20" y2="244.41" stroke="#231f20" stroke-width="1.0"/>
<line x1="238.00" y1="238.84" x2="241.20" y2="238.84" stroke="#231f20" stroke-width="1.0"/>
<text x="235.60" y="241.64" font-size="8.69" text-anchor="end" font-weight="normal" fill="#231f20" textLength="8.3" lengthAdjust="spacingAndGlyphs" stroke="#231f20" stroke-width="0.22">40</text>
<line x1="239.40" y1="233.28" x2="241.20" y2="233.28" stroke="#231f20" stroke-width="1.0"/>
<line x1="238.00" y1="227.71" x2="241.20" y2="227.71" stroke="#231f20" stroke-width="1.0"/>
<text x="235.60" y="230.51" font-size="8.69" text-anchor="end" font-weight="normal" fill="#231f20" textLength="8.3" lengthAdjust="spacingAndGlyphs" stroke="#231f20" stroke-width="0.22">60</text>
<line x1="239.40" y1="222.15" x2="241.20" y2="222.15" stroke="#231f20" stroke-width="1.0"/>
<line x1="238.00" y1="216.58" x2="241.20" y2="216.58" stroke="#231f20" stroke-width="1.0"/>
<text x="235.60" y="219.38" font-size="8.69" text-anchor="end" font-weight="normal" fill="#231f20" textLength="8.3" lengthAdjust="spacingAndGlyphs" stroke="#231f20" stroke-width="0.22">80</text>
<line x1="239.40" y1="211.02" x2="241.20" y2="211.02" stroke="#231f20" stroke-width="1.0"/>
<line x1="238.00" y1="205.45" x2="241.20" y2="205.45" stroke="#231f20" stroke-width="1.0"/>
<text x="235.60" y="208.25" font-size="8.69" text-anchor="end" font-weight="normal" fill="#231f20" textLength="12.450000000000001" lengthAdjust="spacingAndGlyphs" stroke="#231f20" stroke-width="0.22">100</text>
<line x1="239.40" y1="199.89" x2="241.20" y2="199.89" stroke="#231f20" stroke-width="1.0"/>
<line x1="238.00" y1="194.32" x2="241.20" y2="194.32" stroke="#231f20" stroke-width="1.0"/>
<text x="235.60" y="197.12" font-size="8.69" text-anchor="end" font-weight="normal" fill="#231f20" textLength="12.450000000000001" lengthAdjust="spacingAndGlyphs" stroke="#231f20" stroke-width="0.22">120</text>
<line x1="239.40" y1="188.76" x2="241.20" y2="188.76" stroke="#231f20" stroke-width="1.0"/>
<line x1="238.00" y1="183.19" x2="241.20" y2="183.19" stroke="#231f20" stroke-width="1.0"/>
<text x="235.60" y="185.99" font-size="8.69" text-anchor="end" font-weight="normal" fill="#231f20" textLength="12.450000000000001" lengthAdjust="spacingAndGlyphs" stroke="#231f20" stroke-width="0.22">140</text>
<line x1="239.40" y1="177.63" x2="241.20" y2="177.63" stroke="#231f20" stroke-width="1.0"/>
<line x1="238.00" y1="172.06" x2="241.20" y2="172.06" stroke="#231f20" stroke-width="1.0"/>
<text x="235.60" y="174.86" font-size="8.69" text-anchor="end" font-weight="normal" fill="#231f20" textLength="12.450000000000001" lengthAdjust="spacingAndGlyphs" stroke="#231f20" stroke-width="0.22">160</text>
<line x1="239.40" y1="166.50" x2="241.20" y2="166.50" stroke="#231f20" stroke-width="1.0"/>
<line x1="238.00" y1="160.93" x2="241.20" y2="160.93" stroke="#231f20" stroke-width="1.0"/>
<text x="235.60" y="163.73" font-size="8.69" text-anchor="end" font-weight="normal" fill="#231f20" textLength="12.450000000000001" lengthAdjust="spacingAndGlyphs" stroke="#231f20" stroke-width="0.22">180</text>
<line x1="239.40" y1="155.37" x2="241.20" y2="155.37" stroke="#231f20" stroke-width="1.0"/>
<line x1="238.00" y1="149.80" x2="241.20" y2="149.80" stroke="#231f20" stroke-width="1.0"/>
<text x="235.60" y="152.60" font-size="8.69" text-anchor="end" font-weight="normal" fill="#231f20" textLength="12.450000000000001" lengthAdjust="spacingAndGlyphs" stroke="#231f20" stroke-width="0.22">200</text>
<line x1="240.60" y1="272.80" x2="403.50" y2="272.80" stroke="#231f20" stroke-width="1.3"/>
<line x1="241.40" y1="272.80" x2="241.40" y2="275.30" stroke="#231f20" stroke-width="1.0"/>
<text x="241.40" y="284.50" font-size="8.69" text-anchor="middle" font-weight="normal" fill="#231f20" textLength="4.15" lengthAdjust="spacingAndGlyphs" stroke="#231f20" stroke-width="0.22">0</text>
<line x1="249.30" y1="272.80" x2="249.30" y2="275.30" stroke="#231f20" stroke-width="1.0"/>
<line x1="257.20" y1="272.80" x2="257.20" y2="275.30" stroke="#231f20" stroke-width="1.0"/>
<text x="257.20" y="284.50" font-size="8.69" text-anchor="middle" font-weight="normal" fill="#231f20" textLength="8.3" lengthAdjust="spacingAndGlyphs" stroke="#231f20" stroke-width="0.22">20</text>
<line x1="265.10" y1="272.80" x2="265.10" y2="275.30" stroke="#231f20" stroke-width="1.0"/>
<line x1="273.00" y1="272.80" x2="273.00" y2="275.30" stroke="#231f20" stroke-width="1.0"/>
<text x="273.00" y="284.50" font-size="8.69" text-anchor="middle" font-weight="normal" fill="#231f20" textLength="8.3" lengthAdjust="spacingAndGlyphs" stroke="#231f20" stroke-width="0.22">40</text>
<line x1="280.90" y1="272.80" x2="280.90" y2="275.30" stroke="#231f20" stroke-width="1.0"/>
<line x1="288.80" y1="272.80" x2="288.80" y2="275.30" stroke="#231f20" stroke-width="1.0"/>
<text x="288.80" y="284.50" font-size="8.69" text-anchor="middle" font-weight="normal" fill="#231f20" textLength="8.3" lengthAdjust="spacingAndGlyphs" stroke="#231f20" stroke-width="0.22">60</text>
<line x1="296.70" y1="272.80" x2="296.70" y2="275.30" stroke="#231f20" stroke-width="1.0"/>
<line x1="304.60" y1="272.80" x2="304.60" y2="275.30" stroke="#231f20" stroke-width="1.0"/>
<text x="304.60" y="284.50" font-size="8.69" text-anchor="middle" font-weight="normal" fill="#231f20" textLength="8.3" lengthAdjust="spacingAndGlyphs" stroke="#231f20" stroke-width="0.22">80</text>
<line x1="312.50" y1="272.80" x2="312.50" y2="275.30" stroke="#231f20" stroke-width="1.0"/>
<line x1="320.40" y1="272.80" x2="320.40" y2="275.30" stroke="#231f20" stroke-width="1.0"/>
<text x="320.40" y="284.50" font-size="8.69" text-anchor="middle" font-weight="normal" fill="#231f20" textLength="12.450000000000001" lengthAdjust="spacingAndGlyphs" stroke="#231f20" stroke-width="0.22">100</text>
<line x1="328.30" y1="272.80" x2="328.30" y2="275.30" stroke="#231f20" stroke-width="1.0"/>
<line x1="336.20" y1="272.80" x2="336.20" y2="275.30" stroke="#231f20" stroke-width="1.0"/>
<text x="336.20" y="284.50" font-size="8.69" text-anchor="middle" font-weight="normal" fill="#231f20" textLength="12.450000000000001" lengthAdjust="spacingAndGlyphs" stroke="#231f20" stroke-width="0.22">120</text>
<line x1="344.10" y1="272.80" x2="344.10" y2="275.30" stroke="#231f20" stroke-width="1.0"/>
<line x1="352.00" y1="272.80" x2="352.00" y2="275.30" stroke="#231f20" stroke-width="1.0"/>
<text x="352.00" y="284.50" font-size="8.69" text-anchor="middle" font-weight="normal" fill="#231f20" textLength="12.450000000000001" lengthAdjust="spacingAndGlyphs" stroke="#231f20" stroke-width="0.22">140</text>
<line x1="359.90" y1="272.80" x2="359.90" y2="275.30" stroke="#231f20" stroke-width="1.0"/>
<line x1="367.80" y1="272.80" x2="367.80" y2="275.30" stroke="#231f20" stroke-width="1.0"/>
<text x="367.80" y="284.50" font-size="8.69" text-anchor="middle" font-weight="normal" fill="#231f20" textLength="12.450000000000001" lengthAdjust="spacingAndGlyphs" stroke="#231f20" stroke-width="0.22">160</text>
<line x1="375.70" y1="272.80" x2="375.70" y2="275.30" stroke="#231f20" stroke-width="1.0"/>
<line x1="383.60" y1="272.80" x2="383.60" y2="275.30" stroke="#231f20" stroke-width="1.0"/>
<text x="383.60" y="284.50" font-size="8.69" text-anchor="middle" font-weight="normal" fill="#231f20" textLength="12.450000000000001" lengthAdjust="spacingAndGlyphs" stroke="#231f20" stroke-width="0.22">180</text>
<line x1="391.50" y1="272.80" x2="391.50" y2="275.30" stroke="#231f20" stroke-width="1.0"/>
<line x1="399.40" y1="272.80" x2="399.40" y2="275.30" stroke="#231f20" stroke-width="1.0"/>
<text x="399.40" y="284.50" font-size="8.69" text-anchor="middle" font-weight="normal" fill="#231f20" textLength="12.450000000000001" lengthAdjust="spacingAndGlyphs" stroke="#231f20" stroke-width="0.22">200</text>
<text x="322.00" y="298.30" font-size="10.23" text-anchor="middle" font-weight="normal" fill="#231f20" textLength="27.0" lengthAdjust="spacingAndGlyphs" stroke="#231f20" stroke-width="0.22">Time [S]</text>
<text transform="translate(215.50,210.90) rotate(-90)" x="0" y="0" font-size="8.03" text-anchor="middle" font-weight="normal" fill="#231f20" textLength="62.8" lengthAdjust="spacingAndGlyphs" stroke="#231f20" stroke-width="0.22">Response unit (RU)</text>
<line x1="341.00" y1="174.40" x2="349.10" y2="174.40" stroke="#d4163c" stroke-width="1.7"/>
<line x1="341.00" y1="185.20" x2="349.10" y2="185.20" stroke="#2a62a6" stroke-width="1.7"/>
<text x="352.20" y="177.10" font-size="7.81" text-anchor="start" font-weight="normal" fill="#231f20" textLength="36.6" lengthAdjust="spacingAndGlyphs" stroke="#231f20" stroke-width="0.22">3S HMGB1</text>
<text x="352.20" y="187.90" font-size="7.81" text-anchor="start" font-weight="normal" fill="#231f20" textLength="23.3" lengthAdjust="spacingAndGlyphs" stroke="#231f20" stroke-width="0.22">Vehicle</text>
<path d="M241.40,261.30 C245.77,261.32 262.77,261.50 267.60,261.40 C272.43,261.30 269.17,260.72 270.40,260.70 C271.63,260.68 273.47,261.12 275.00,261.30 C276.53,261.48 277.30,261.67 279.60,261.80 C281.90,261.93 285.33,262.08 288.80,262.10 C292.27,262.12 296.55,261.90 300.40,261.90 C304.25,261.90 309.25,261.98 311.90,262.10 C314.55,262.22 314.95,262.60 316.30,262.60 C317.65,262.60 316.82,262.23 320.00,262.10 C323.18,261.97 330.27,261.92 335.40,261.80 C340.53,261.68 345.17,261.52 350.80,261.40 C356.43,261.28 365.87,261.27 369.20,261.10 C372.53,260.93 369.50,260.53 370.80,260.40 C372.10,260.27 375.85,260.22 377.00,260.30 C378.15,260.38 376.95,260.85 377.70,260.90 C378.45,260.95 380.22,260.87 381.50,260.60 C382.78,260.33 384.37,259.17 385.40,259.30 C386.43,259.43 386.93,261.22 387.70,261.40 C388.47,261.58 388.33,260.58 390.00,260.40 C391.67,260.22 396.42,260.32 397.70,260.30" fill="none" stroke="#2a62a6" stroke-width="1.3" stroke-linejoin="round" stroke-linecap="round"/>
<path d="M241.40,261.30 C244.50,261.30 255.63,261.28 260.00,261.30 C264.37,261.32 266.22,261.33 267.60,261.40 C268.98,261.47 267.83,262.02 268.30,261.70 C268.77,261.38 269.48,260.08 270.40,259.50 C271.32,258.92 272.27,258.58 273.80,258.20 C275.33,257.82 277.10,257.55 279.60,257.20 C282.10,256.85 285.33,256.38 288.80,256.10 C292.27,255.82 296.17,255.70 300.40,255.50 C304.63,255.30 311.75,255.07 314.20,254.90 C316.65,254.73 314.72,254.37 315.10,254.50 C315.48,254.63 315.68,255.53 316.50,255.70 C317.32,255.87 316.85,255.42 320.00,255.50 C323.15,255.58 330.27,255.98 335.40,256.20 C340.53,256.42 345.17,256.60 350.80,256.80 C356.43,257.00 365.97,257.40 369.20,257.40 C372.43,257.40 368.92,256.90 370.20,256.80 C371.48,256.70 375.65,256.70 376.90,256.80 C378.15,256.90 376.93,257.37 377.70,257.40 C378.47,257.43 380.22,257.23 381.50,257.00 C382.78,256.77 384.37,255.88 385.40,256.00 C386.43,256.12 386.93,257.57 387.70,257.70 C388.47,257.83 388.33,256.83 390.00,256.80 C391.67,256.77 396.42,257.38 397.70,257.50" fill="none" stroke="#d4163c" stroke-width="1.3" stroke-linejoin="round" stroke-linecap="round"/>
<text x="414.20" y="142.70" font-size="11.7" text-anchor="start" font-weight="bold" fill="#000" stroke="#000" stroke-width="0.3">G</text>
<text x="462.50" y="185.10" font-size="9.35" text-anchor="middle" font-weight="normal" fill="#231f20" textLength="31.3" lengthAdjust="spacingAndGlyphs" stroke="#231f20" stroke-width="0.22">(+) EPO</text>
<line x1="442.00" y1="189.70" x2="480.50" y2="189.70" stroke="#333" stroke-width="1.6"/>
<text transform="translate(427.20,215.70) rotate(-45)" x="0" y="0" font-size="7.7" text-anchor="start" font-weight="normal" fill="#231f20" textLength="25.0" lengthAdjust="spacingAndGlyphs" stroke="#231f20" stroke-width="0.22">(–) EPO</text>
<text transform="translate(443.60,215.10) rotate(-45)" x="0" y="0" font-size="7.7" text-anchor="start" font-weight="normal" fill="#231f20" textLength="21.6" lengthAdjust="spacingAndGlyphs" stroke="#231f20" stroke-width="0.22">Vehicle</text>
<text transform="translate(458.00,215.00) rotate(-45)" x="0" y="0" font-size="7.7" text-anchor="start" font-weight="normal" fill="#231f20" textLength="23.8" lengthAdjust="spacingAndGlyphs" stroke="#231f20" stroke-width="0.22">HMGB1</text>
<text transform="translate(474.60,215.40) rotate(-45)" x="0" y="0" font-size="7.7" text-anchor="start" font-weight="normal" fill="#231f20" textLength="31.8" lengthAdjust="spacingAndGlyphs" stroke="#231f20" stroke-width="0.22">3S HMGB1</text>
<rect x="421.1" y="217.7" width="61.4" height="15.9" rx="1.3" fill="#f4f4f4" stroke="#262626" stroke-width="1.25"/>
<rect x="421.1" y="236.9" width="61.4" height="16.1" rx="1.3" fill="#f4f4f4" stroke="#262626" stroke-width="1.25"/>
<rect x="421.1" y="256.6" width="61.4" height="16.4" rx="1.3" fill="#f4f4f4" stroke="#262626" stroke-width="1.25"/>
<g filter="url(#bandblur2)" fill="none" stroke-linecap="round">
<path d="M426.4,226.8 L434.0,226.7" stroke="#a0a0a0" stroke-width="2.4"/>
<path d="M455.6,227.0 L462.6,227.0" stroke="#dadada" stroke-width="2.2"/>
</g>
<g filter="url(#bandblur)" fill="none" stroke-linecap="round">
<path d="M440.9,226.9 L448.3,226.9" stroke="#000" stroke-width="3.7"/>
<path d="M469.5,226.6 L476.9,226.5" stroke="#000" stroke-width="3.3"/>
</g>
<g filter="url(#bandblur)" fill="none" stroke-linecap="round">
<path d="M426.0,246.4 L435.2,246.2" stroke="#1a1a1a" stroke-width="2.2"/>
<path d="M440.2,246.4 L449.6,246.2" stroke="#1a1a1a" stroke-width="2.2"/>
<path d="M454.2,246.4 L463.2,246.2" stroke="#1a1a1a" stroke-width="2.2"/>
<path d="M468.2,246.4 L477.6,246.2" stroke="#1a1a1a" stroke-width="2.2"/>
</g>
<g filter="url(#blur03)" fill="none" stroke-linecap="round">
<path d="M426.6,264.9 L436.2,264.3" stroke="#0e0e0e" stroke-width="2.1"/>
<path d="M440.5,264.6 L450.1,264.0" stroke="#0e0e0e" stroke-width="2.1"/>
<path d="M454.8,264.1 L463.7,263.7" stroke="#0e0e0e" stroke-width="2.1"/>
<path d="M468.5,263.8 L478.0,263.3" stroke="#0e0e0e" stroke-width="2.1"/>
</g>
<text x="484.90" y="229.20" font-size="8.14" text-anchor="start" font-weight="normal" fill="#231f20" textLength="25.8" lengthAdjust="spacingAndGlyphs" stroke="#231f20" stroke-width="0.22">pSTAT5</text>
<text x="484.90" y="248.30" font-size="8.14" text-anchor="start" font-weight="normal" fill="#231f20" textLength="21.7" lengthAdjust="spacingAndGlyphs" stroke="#231f20" stroke-width="0.22">STAT5</text>
<text x="484.90" y="267.30" font-size="8.58" text-anchor="start" font-weight="normal" fill="#231f20" textLength="27.7" lengthAdjust="spacingAndGlyphs" stroke="#231f20" stroke-width="0.22">GAPDH</text>
<rect x="0.5" y="0.5" width="519" height="305" fill="none" stroke="#000" stroke-width="1.2"/>
</svg>
</body></html>
